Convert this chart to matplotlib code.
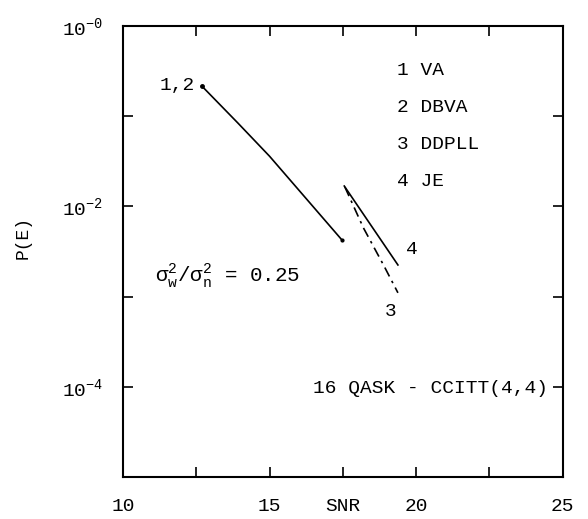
import numpy as np
import matplotlib
matplotlib.use("Agg")
import matplotlib.pyplot as plt

plt.rcParams['font.family'] = ['Liberation Mono', 'DejaVu Sans']
plt.rcParams['mathtext.fontset'] = 'custom'
plt.rcParams['mathtext.rm'] = 'Liberation Mono'
plt.rcParams['mathtext.it'] = 'Liberation Mono'

# curves (SNR, P(E))
snr_12 = [12.69, 13.92, 15.0, 17.47]
pe_12 = [0.216, 0.084, 0.036, 0.00424]

snr_4 = [17.55, 19.38]
pe_4 = [0.0168, 0.00224]

snr_3 = [17.57, 18.2, 18.9, 19.38]
pe_3 = [0.0164, 0.0058, 0.0022, 0.0011]

x_ticks = [10, 12.5, 15, 17.5, 20, 22.5, 25]
x_labels = ["10", "", "15", "SNR", "20", "", "25"]
y_ticks = [1e0, 1e-1, 1e-2, 1e-3, 1e-4, 1e-5]
y_labels = [r"$\mathregular{10^{-0}}$", "", r"$\mathregular{10^{-2}}$", "",
            r"$\mathregular{10^{-4}}$", ""]

legend_lines = ["1 VA", "2 DBVA", "3 DDPLL", "4 JE"]

fig = plt.figure(figsize=(5.88, 5.19), dpi=100)
ax = fig.add_axes([0.209, 0.081, 0.748, 0.869])

ax.plot(snr_12, pe_12, color="black", lw=1.2)
ax.plot(snr_12[0], pe_12[0], "o", color="black", ms=2.5)
ax.plot(snr_12[-1], pe_12[-1], "o", color="black", ms=2)
ax.plot(snr_4, pe_4, color="black", lw=1.2)
ax.plot(snr_3, pe_3, color="black", lw=1.2, linestyle=(0, (6, 3, 1.5, 3)))

ax.set_yscale("log")
ax.set_xlim(10, 25)
ax.set_ylim(1e-5, 1e0)

ax.set_xticks(x_ticks)
ax.set_xticklabels(x_labels)
ax.set_yticks(y_ticks)
ax.set_yticklabels(y_labels)
ax.minorticks_off()
ax.tick_params(axis="both", direction="in", length=7, width=1.2,
               top=True, right=True, labelsize=14)
ax.tick_params(axis="x", pad=15)
ax.tick_params(axis="y", pad=14)
for s in ax.spines.values():
    s.set_linewidth(1.5)

ax.text(12.45, 0.216, "1,2", ha="right", va="center", fontsize=14)
ax.text(19.65, 0.00330, "4", ha="left", va="center", fontsize=14)
ax.text(19.15, 0.00068, "3", ha="center", va="center", fontsize=14)

for i, t in enumerate(legend_lines):
    ax.text(19.35, 10 ** (-0.49 - 0.41 * i), t, ha="left", va="center", fontsize=14)

ax.text(11.1, 10 ** (-2.78), r"$\mathregular{\sigma_w^2/\sigma_n^2}$ = 0.25",
        ha="left", va="center", fontsize=15)
ax.text(24.5, 10 ** (-4.02), "16 QASK - CCITT(4,4)", ha="right", va="center",
        fontsize=14)

fig.text(0.039, 0.543, "P(E)", rotation=90, ha="center", va="center", fontsize=13)

fig.savefig("out.png", dpi=100)
